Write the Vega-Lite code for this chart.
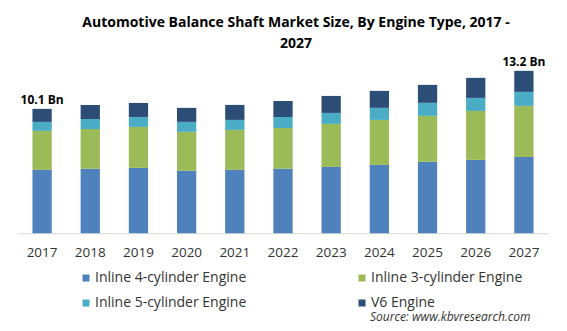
{
  "$schema": "https://vega.github.io/schema/vega-lite/v6.json",
  "width": 530,
  "height": 172.2,
  "autosize": "none",
  "padding": {"left": 18, "top": 61, "right": 19, "bottom": 97.8},
  "background": "white",
  "title": {
    "text": ["Automotive Balance Shaft Market Size, By Engine Type, 2017 -", "2027"],
    "anchor": "middle",
    "frame": "group",
    "dx": 13,
    "offset": 5,
    "font": "Open Sans",
    "fontSize": 14,
    "fontWeight": "bold",
    "color": "#000000",
    "lineHeight": 21
  },
  "datasets": {
    "bars": [
      {"year": "2017", "engine": "Inline 4-cylinder Engine", "value": 5.15},
      {"year": "2017", "engine": "Inline 3-cylinder Engine", "value": 3.17},
      {"year": "2017", "engine": "Inline 5-cylinder Engine", "value": 0.73},
      {"year": "2017", "engine": "V6 Engine", "value": 1.06},
      {"year": "2018", "engine": "Inline 4-cylinder Engine", "value": 5.23},
      {"year": "2018", "engine": "Inline 3-cylinder Engine", "value": 3.25},
      {"year": "2018", "engine": "Inline 5-cylinder Engine", "value": 0.81},
      {"year": "2018", "engine": "V6 Engine", "value": 1.14},
      {"year": "2019", "engine": "Inline 4-cylinder Engine", "value": 5.31},
      {"year": "2019", "engine": "Inline 3-cylinder Engine", "value": 3.33},
      {"year": "2019", "engine": "Inline 5-cylinder Engine", "value": 0.81},
      {"year": "2019", "engine": "V6 Engine", "value": 1.14},
      {"year": "2020", "engine": "Inline 4-cylinder Engine", "value": 5.07},
      {"year": "2020", "engine": "Inline 3-cylinder Engine", "value": 3.17},
      {"year": "2020", "engine": "Inline 5-cylinder Engine", "value": 0.81},
      {"year": "2020", "engine": "V6 Engine", "value": 1.14},
      {"year": "2021", "engine": "Inline 4-cylinder Engine", "value": 5.15},
      {"year": "2021", "engine": "Inline 3-cylinder Engine", "value": 3.25},
      {"year": "2021", "engine": "Inline 5-cylinder Engine", "value": 0.81},
      {"year": "2021", "engine": "V6 Engine", "value": 1.22},
      {"year": "2022", "engine": "Inline 4-cylinder Engine", "value": 5.23},
      {"year": "2022", "engine": "Inline 3-cylinder Engine", "value": 3.33},
      {"year": "2022", "engine": "Inline 5-cylinder Engine", "value": 0.89},
      {"year": "2022", "engine": "V6 Engine", "value": 1.30},
      {"year": "2023", "engine": "Inline 4-cylinder Engine", "value": 5.39},
      {"year": "2023", "engine": "Inline 3-cylinder Engine", "value": 3.50},
      {"year": "2023", "engine": "Inline 5-cylinder Engine", "value": 0.89},
      {"year": "2023", "engine": "V6 Engine", "value": 1.38},
      {"year": "2024", "engine": "Inline 4-cylinder Engine", "value": 5.55},
      {"year": "2024", "engine": "Inline 3-cylinder Engine", "value": 3.66},
      {"year": "2024", "engine": "Inline 5-cylinder Engine", "value": 0.98},
      {"year": "2024", "engine": "V6 Engine", "value": 1.38},
      {"year": "2025", "engine": "Inline 4-cylinder Engine", "value": 5.80},
      {"year": "2025", "engine": "Inline 3-cylinder Engine", "value": 3.74},
      {"year": "2025", "engine": "Inline 5-cylinder Engine", "value": 1.06},
      {"year": "2025", "engine": "V6 Engine", "value": 1.46},
      {"year": "2026", "engine": "Inline 4-cylinder Engine", "value": 5.96},
      {"year": "2026", "engine": "Inline 3-cylinder Engine", "value": 3.98},
      {"year": "2026", "engine": "Inline 5-cylinder Engine", "value": 1.06},
      {"year": "2026", "engine": "V6 Engine", "value": 1.63},
      {"year": "2027", "engine": "Inline 4-cylinder Engine", "value": 6.20},
      {"year": "2027", "engine": "Inline 3-cylinder Engine", "value": 4.15},
      {"year": "2027", "engine": "Inline 5-cylinder Engine", "value": 1.14},
      {"year": "2027", "engine": "V6 Engine", "value": 1.71}
    ],
    "totals": [
      {"year": "2017", "total": 10.11, "label": "10.1 Bn"},
      {"year": "2027", "total": 13.20, "label": "13.2 Bn"}
    ]
  },
  "layer": [
    {
      "data": {"name": "bars"},
      "transform": [
        {"calculate": "indexof(['Inline 4-cylinder Engine', 'Inline 3-cylinder Engine', 'Inline 5-cylinder Engine', 'V6 Engine'], datum.engine)", "as": "stackRank"}
      ],
      "mark": {"type": "bar"},
      "encoding": {
        "x": {
          "field": "year",
          "type": "ordinal",
          "scale": {"paddingInner": 0.6, "paddingOuter": 0.3},
          "axis": {
            "title": "Source:  www.kbvresearch.com",
            "titleX": 512,
            "titleY": 87.5,
            "titleAlign": "right",
            "titleAnchor": null,
            "titleBaseline": "alphabetic",
            "titleFont": "Open Sans",
            "titleFontSize": 12,
            "titleFontStyle": "italic",
            "titleFontWeight": "normal",
            "titleColor": "#333333",
            "labelAngle": 0,
            "labelFont": "Open Sans",
            "labelFontSize": 13.5,
            "labelColor": "#333333",
            "labelPadding": 12,
            "ticks": false,
            "tickSize": 0,
            "domainColor": "#d9d9d9",
            "domainWidth": 1,
            "grid": false
          }
        },
        "y": {
          "field": "value",
          "type": "quantitative",
          "aggregate": "sum",
          "stack": "zero",
          "scale": {"domain": [0, 14], "nice": false},
          "axis": null
        },
        "order": {"field": "stackRank", "type": "quantitative", "sort": "ascending"},
        "color": {
          "field": "engine",
          "type": "nominal",
          "scale": {
            "domain": ["Inline 4-cylinder Engine", "Inline 3-cylinder Engine", "Inline 5-cylinder Engine", "V6 Engine"],
            "range": ["#4f81bd", "#9bbb59", "#4bacc6", "#2c4d75"]
          },
          "legend": {
            "title": null,
            "orient": "none",
            "legendX": 61,
            "legendY": 210,
            "direction": "horizontal",
            "columns": 2,
            "columnPadding": 108,
            "rowPadding": 11,
            "symbolType": "square",
            "symbolSize": 49,
            "symbolStrokeWidth": 0,
            "labelOffset": 2,
            "labelFont": "Open Sans",
            "labelFontSize": 14,
            "labelColor": "#333333",
            "labelLimit": 300
          }
        }
      }
    },
    {
      "data": {"name": "totals"},
      "mark": {
        "type": "text",
        "baseline": "alphabetic",
        "dy": -5,
        "font": "Open Sans",
        "fontSize": 12,
        "fontWeight": "bold",
        "color": "#000000"
      },
      "encoding": {
        "x": {"field": "year", "type": "ordinal"},
        "y": {"field": "total", "type": "quantitative"},
        "text": {"field": "label"}
      }
    }
  ],
  "config": {
    "view": {"stroke": null},
    "font": "Open Sans"
  }
}
